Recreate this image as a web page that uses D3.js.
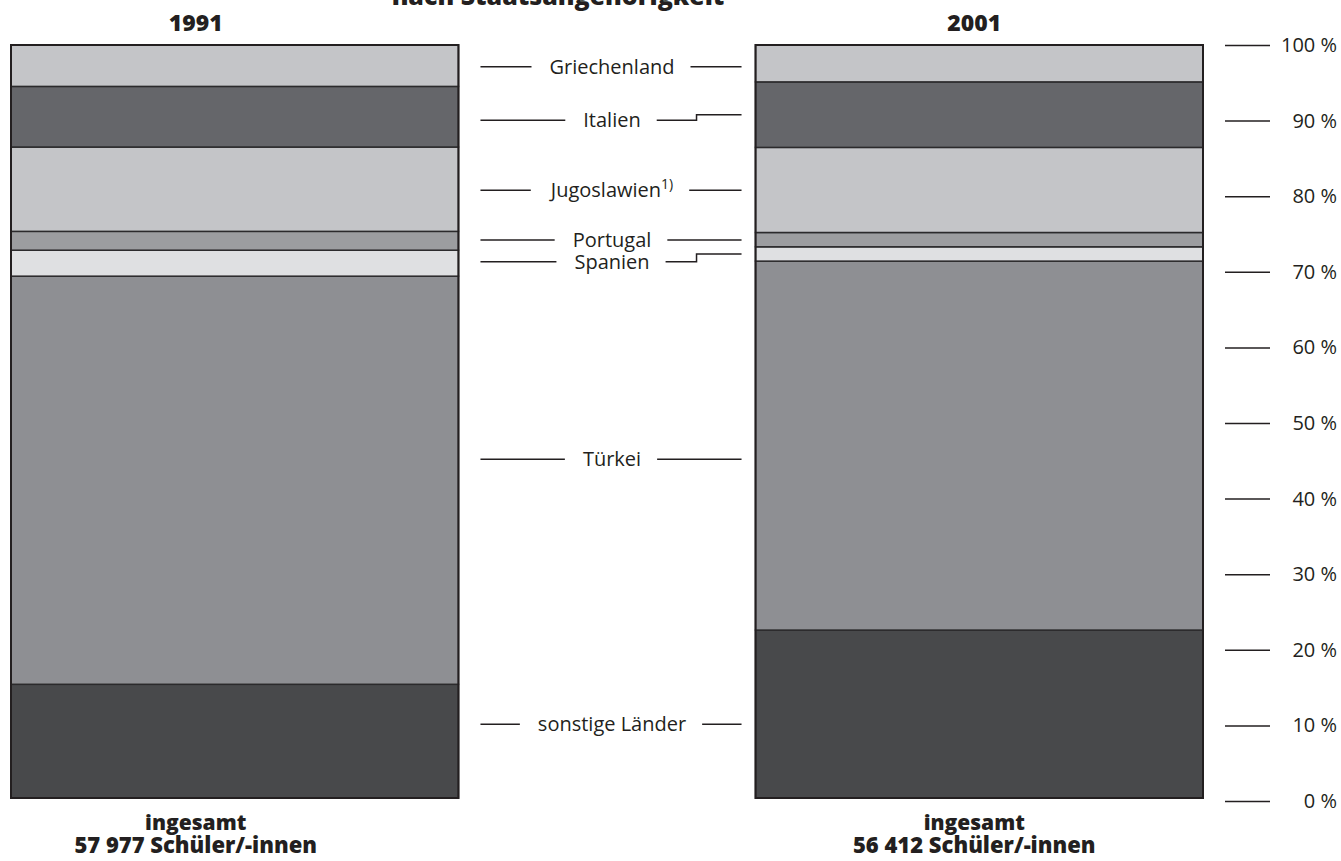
<!DOCTYPE html>
<html>
<head>
<meta charset="utf-8">
<script src="https://cdn.jsdelivr.net/npm/d3@7"></script>
<style>
  body { margin: 0; background: #fff; }
  text { font-family: "Open Sans", "Noto Sans", sans-serif; fill: #231f20; }
</style>
</head>
<body>
<div id="div1"></div>
<script>
// shares in percent, bottom to top
var countries = ["sonstige Länder", "Türkei", "Spanien", "Portugal", "Jugoslawien", "Italien", "Griechenland"];
var years = ["1991", "2001"];
var share1991 = [15.1, 54.2, 3.45, 2.5, 11.2, 8.05, 5.5];
var share2001 = [22.3, 49.0, 1.9, 1.9, 11.3, 8.7, 4.9];
var totals = ["57 977", "56 412"];
var tickValues = [0, 10, 20, 30, 40, 50, 60, 70, 80, 90, 100];
// height (in %) where each middle label sits
var labelAt = [9.8, 45.0, 71.2, 74.1, 80.7, 90.0, 97.1];
// labels whose right leader steps to the 2001 segment
var stepped = ["Italien", "Spanien"];

var colors = ["#48494b", "#8e8f93", "#dfe0e2", "#9c9da0", "#c4c5c8", "#65666a", "#c4c5c8"];

const width = 1341, height = 861;

const svg = d3.select("#div1")
  .append("svg")
    .attr("width", width)
    .attr("height", height);

// build table for the stack
var data = years.map(function(yr, j){
  var row = {group: yr};
  var src = j == 0 ? share1991 : share2001;
  countries.forEach(function(c, i){ row[c] = src[i]; });
  return row;
});

const x = d3.scaleBand()
  .domain(years)
  .range([11, 1203])
  .paddingInner(0.399)
  .paddingOuter(0);

const y = d3.scaleLinear()
  .domain([0, 100])
  .range([798, 45]);

// the axis on the right is drawn a bit longer than the bars
const yAxisScale = d3.scaleLinear()
  .domain([0, 100])
  .range([801, 45]);

const color = d3.scaleOrdinal()
  .domain(countries)
  .range(colors);

const stackedData = d3.stack()
  .keys(countries)
  (data);

// bars
svg.append("g")
  .selectAll("g")
  .data(stackedData)
  .join("g")
    .attr("fill", d => color(d.key))
    .selectAll("rect")
    .data(d => d)
    .join("rect")
      .attr("x", d => x(d.data.group))
      .attr("y", d => y(d[1]))
      .attr("height", d => y(d[0]) - y(d[1]))
      .attr("width", x.bandwidth())
      .attr("stroke", "#2b2a2c")
      .attr("stroke-width", 1.5);

// outer frame of each bar
svg.append("g")
  .selectAll("rect")
  .data(years)
  .join("rect")
    .attr("x", d => x(d))
    .attr("y", y(100))
    .attr("width", x.bandwidth())
    .attr("height", y(0) - y(100))
    .attr("fill", "none")
    .attr("stroke", "#231f20")
    .attr("stroke-width", 2);

function headX(d){ return x(d) + x.bandwidth() / 2 - (d == "1991" ? 39 : 5); }

// year headings
svg.append("g")
  .selectAll("text")
  .data(years)
  .join("text")
    .attr("x", headX)
    .attr("y", 31)
    .attr("text-anchor", "middle")
    .attr("font-weight", "800")
    .attr("font-size", 23)
    .text(d => d);

// cut title at the very top
svg.append("text")
  .attr("x", 558)
  .attr("y", 5)
  .attr("text-anchor", "middle")
  .attr("font-weight", "800")
  .attr("font-size", 25)
  .text("nach Staatsangehörigkeit");

// totals below the bars
var foot = svg.append("g")
  .selectAll("g")
  .data(years)
  .join("g")
    .attr("transform", d => `translate(${headX(d)},0)`);

foot.append("text")
  .attr("y", 830)
  .attr("text-anchor", "middle")
  .attr("font-weight", "800")
  .attr("font-size", 21)
  .text("ingesamt");

foot.append("text")
  .attr("y", 853)
  .attr("text-anchor", "middle")
  .attr("font-weight", "800")
  .attr("font-size", 22)
  .text((d, i) => totals[i] + " Schüler/-innen");

// right axis
var axis = svg.append("g")
  .attr("transform", "translate(1225,0)")
  .call(d3.axisRight(yAxisScale)
    .tickValues(tickValues)
    .tickSize(45)
    .tickFormat(d => d + " %"));

axis.select(".domain").remove();
axis.selectAll(".tick line")
  .attr("stroke", "#231f20")
  .attr("stroke-width", 1.5);
axis.selectAll(".tick text")
  .attr("x", 112)
  .attr("text-anchor", "end")
  .attr("font-size", 20)
  .attr("font-family", "'Open Sans', sans-serif")
  .attr("fill", "#231f20");

// middle labels with leader lines
var labelX = 612;
var leftEnd = x("1991") + x.bandwidth() + 22;
var rightEnd = x("2001") - 14;

var lab = svg.append("g")
  .selectAll("g")
  .data(countries)
  .join("g");

lab.each(function(c, i){
  var g = d3.select(this);
  var ly = y(labelAt[i]);
  var t = g.append("text")
    .attr("x", labelX)
    .attr("y", ly)
    .attr("dy", "0.35em")
    .attr("text-anchor", "middle")
    .attr("font-size", 20);
  t.append("tspan").text(c);
  if (c == "Jugoslawien") {
    t.append("tspan")
      .attr("font-size", 14)
      .attr("dy", "-0.6em")
      .text("1)");
  }
  var bb = t.node().getBBox();
  g.append("line")
    .attr("x1", leftEnd).attr("x2", bb.x - 18)
    .attr("y1", ly).attr("y2", ly)
    .attr("stroke", "#231f20").attr("stroke-width", 1.5);

  var ry = ly;
  if (stepped.indexOf(c) >= 0) {
    var seg = stackedData[i][1];
    ry = y((seg[0] + seg[1]) / 2);
  }
  var sx = bb.x + bb.width + 16;
  var kx = rightEnd - 45;
  g.append("path")
    .attr("d", ry == ly
      ? `M${sx},${ly}H${rightEnd}`
      : `M${sx},${ly}H${kx}V${ry}H${rightEnd}`)
    .attr("fill", "none")
    .attr("stroke", "#231f20").attr("stroke-width", 1.5);
});
</script>
</body>
</html>
